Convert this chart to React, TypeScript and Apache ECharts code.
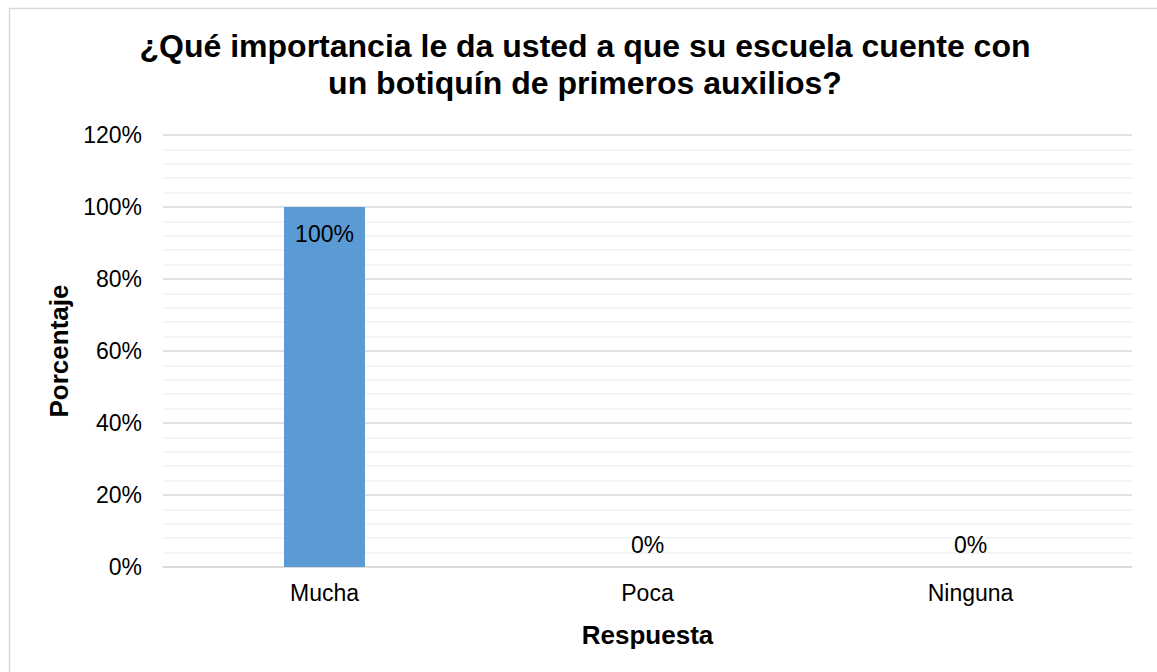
import React, { useEffect, useRef } from "react";
import * as echarts from "echarts";

const categories = ["Mucha", "Poca", "Ninguna"];
const values = [1.0, 0, 0];
const yTicks = [0, 0.2, 0.4, 0.6, 0.8, 1.0, 1.2];
const titleLines = [
  "¿Qué importancia le da usted a que su escuela cuente con",
  "un botiquín de primeros auxilios?",
];
const xName = "Respuesta";
const yName = "Porcentaje";

const FONT = "'Liberation Sans', Arial, sans-serif";

export default function App() {
  const ref = useRef<HTMLDivElement>(null);
  useEffect(() => {
    if (!ref.current) return;
    const chart = echarts.init(ref.current, undefined, { renderer: "svg" });
    const pct = (v: number) => `${Math.round(v * 100)}%`;
    chart.setOption({
      animation: false,
      backgroundColor: "#ffffff",
      graphic: [
        {
          type: "rect",
          shape: { x: 9.5, y: 8.5, width: 1200, height: 720 },
          style: { fill: "none", stroke: "#d9d9d9", lineWidth: 1.5 },
          silent: true,
        },
        {
          type: "text",
          x: 585,
          y: 27,
          style: {
            text: titleLines.join("\n"),
            textAlign: "center",
            textVerticalAlign: "top",
            fontFamily: FONT,
            fontSize: 32,
            fontWeight: "bold",
            lineHeight: 37,
            fill: "#000000",
          },
        },
      ],
      grid: { left: 163, right: 25, top: 135, bottom: 105, containLabel: false },
      xAxis: {
        type: "category",
        data: categories,
        name: xName,
        nameLocation: "middle",
        nameGap: 55,
        nameTextStyle: { fontFamily: FONT, fontSize: 26, fontWeight: "bold", color: "#000" },
        axisLine: { show: true, lineStyle: { color: "#d9d9d9", width: 1.5 } },
        axisTick: { show: false },
        axisLabel: { margin: 14, fontFamily: FONT, fontSize: 23, color: "#000" },
      },
      yAxis: {
        type: "value",
        min: yTicks[0],
        max: yTicks[yTicks.length - 1],
        interval: 0.2,
        name: yName,
        nameLocation: "middle",
        nameGap: 90,
        nameTextStyle: { fontFamily: FONT, fontSize: 26, fontWeight: "bold", color: "#000" },
        axisLine: { show: false },
        axisTick: { show: false },
        axisLabel: {
          margin: 21,
          fontFamily: FONT,
          fontSize: 23,
          color: "#000",
          formatter: (v: number) => pct(v),
        },
        splitLine: { show: true, lineStyle: { color: "#d9d9d9", width: 1.5 } },
        minorTick: { show: false, splitNumber: 5 },
        minorSplitLine: { show: true, lineStyle: { color: "#f0f0f0", width: 1.5 } },
      },
      series: [
        {
          type: "bar",
          barWidth: 81,
          data: values.map((v) => ({
            value: v,
            label:
              v > 0
                ? { show: true, position: "insideTop", distance: 15 }
                : { show: true, position: "top", distance: 11 },
          })),
          itemStyle: { color: "#5b9bd5" },
          label: {
            show: true,
            fontFamily: FONT,
            fontSize: 23,
            color: "#000",
            formatter: (p: any) => pct(p.value),
          },
        },
      ],
    });
    return () => chart.dispose();
  }, []);
  return (
    <div
      ref={ref}
      style={{ position: "absolute", left: 0, top: 0, width: 1157, height: 672 }}
    />
  );
}
